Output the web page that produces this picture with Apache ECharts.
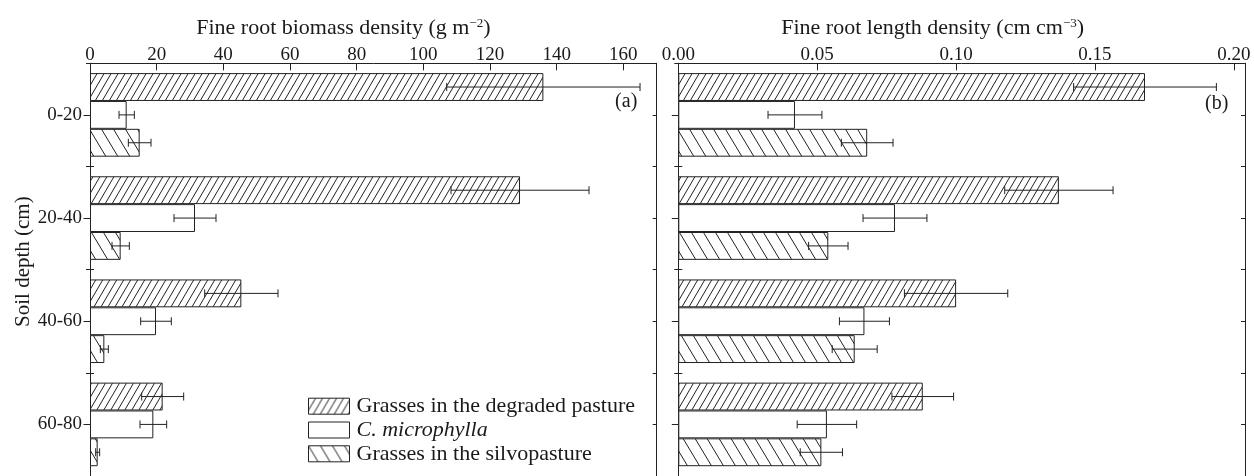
<!DOCTYPE html>
<html><head><meta charset="utf-8">
<script src="https://cdn.jsdelivr.net/npm/echarts@6/dist/echarts.min.js"></script>
<style>html,body{margin:0;padding:0;background:#fff}#c{width:1254px;height:476px}</style>
</head><body><div id="c"></div>
<script>
const depths = ['0-20', '20-40', '40-60', '60-80'];
const seriesNames = ['Grasses in the degraded pasture', 'C. microphylla', 'Grasses in the silvopasture'];

const biomassDegraded = [136, 129, 45.4, 21.8];
const biomassDegradedErr = [29, 20.7, 11, 6.3];
const biomassMicro = [11, 31.5, 19.8, 19];
const biomassMicroErr = [2.3, 6.3, 4.6, 4];
const biomassSilvo = [14.9, 9.2, 4.3, 2.3];
const biomassSilvoErr = [3.4, 2.6, 1.2, 0.6];

const lengthDegraded = [0.168, 0.137, 0.100, 0.088];
const lengthDegradedErr = [0.0257, 0.0195, 0.0186, 0.0111];
const lengthMicro = [0.042, 0.078, 0.067, 0.0535];
const lengthMicroErr = [0.0097, 0.0115, 0.009, 0.0107];
const lengthSilvo = [0.068, 0.054, 0.0635, 0.0515];
const lengthSilvoErr = [0.0093, 0.0071, 0.0081, 0.0076];

const FONT = 'Liberation Serif';
const INK = '#1a1a1a';
const GAP = 0.19;

function hatch(w, h, dir) {
  const c = document.createElement('canvas');
  c.width = w; c.height = h;
  const ctx = c.getContext('2d');
  ctx.fillStyle = '#fff'; ctx.fillRect(0, 0, w, h);
  ctx.strokeStyle = '#222'; ctx.lineWidth = 1;
  ctx.beginPath();
  for (let k = -1; k <= 1; k++) {
    if (dir === '/') { ctx.moveTo(k * w, h); ctx.lineTo(k * w + w, 0); }
    else { ctx.moveTo(k * w, 0); ctx.lineTo(k * w + w, h); }
  }
  ctx.stroke();
  return { image: c, repeat: 'repeat' };
}
const fills = [hatch(7, 12, '/'), '#ffffff', hatch(12, 20, '\\')];

function barSeries(i, xi, yi, data) {
  return {
    type: 'bar', name: seriesNames[i], xAxisIndex: xi, yAxisIndex: yi, data: data,
    barGap: '0%', barCategoryGap: (GAP * 100) + '%',
    itemStyle: { color: fills[i], borderColor: '#222', borderWidth: 1 },
    emphasis: { disabled: true }, silent: true
  };
}
function errSeries(slot, xi, yi, vals, errs) {
  return {
    type: 'custom', xAxisIndex: xi, yAxisIndex: yi, silent: true, z: 5,
    data: vals.map((v, i) => [v, i, errs[i]]),
    encode: { x: 0, y: 1 },
    renderItem: function (params, api) {
      const v = api.value(0), ci = api.value(1), e = api.value(2);
      const band = api.size([0, 1])[1];
      const bw = band * (1 - GAP) / 3;
      const c = api.coord([v, ci]);
      const y = c[1] + (slot - 1) * bw;
      const x1 = api.coord([v - e, ci])[0], x2 = api.coord([v + e, ci])[0];
      const cap = 4;
      const st = { stroke: '#222', lineWidth: 1 };
      return { type: 'group', children: [
        { type: 'line', shape: { x1: x1, y1: y, x2: x2, y2: y }, style: st },
        { type: 'line', shape: { x1: x1, y1: y - cap, x2: x1, y2: y + cap }, style: st },
        { type: 'line', shape: { x1: x2, y1: y - cap, x2: x2, y2: y + cap }, style: st }
      ] };
    }
  };
}

const axisLine = { show: true, lineStyle: { color: '#222', width: 1 } };
function catAxis(grid, pos, opts) {
  return Object.assign({
    type: 'category', gridIndex: grid, position: pos, inverse: true, data: depths,
    axisLine: { show: false }, axisLabel: { show: false }, splitLine: { show: false },
    axisTick: { show: false }
  }, opts);
}
const nameRich = {
  t: { fontFamily: FONT, fontSize: 22, color: INK },
  s: { fontFamily: FONT, fontSize: 13, color: INK, verticalAlign: 'top', padding: [0, 0, 6, 0] }
};
function valAxis(grid, max, interval, fmt, name, padRight) {
  return {
    type: 'value', gridIndex: grid, position: 'top', min: 0, max: max, interval: interval,
    axisLine: axisLine,
    axisTick: { show: true, inside: true, length: 7, lineStyle: { color: '#222' } },
    axisLabel: { fontFamily: FONT, fontSize: 19, color: INK, margin: -1, formatter: fmt },
    splitLine: { show: false },
    name: name, nameLocation: 'middle', nameGap: 24,
    nameTextStyle: { rich: nameRich, padding: [0, padRight, 0, 0] }
  };
}

const option = {
  animation: false,
  backgroundColor: '#fff',
  grid: [
    { left: 90, top: 63.3, width: 566.7, height: 416 },
    { left: 678.3, top: 63.3, width: 566.7, height: 416 },
    { left: 90, top: 63.3, width: 566.7, height: 416 },
    { left: 678.3, top: 63.3, width: 566.7, height: 416 }
  ],
  xAxis: [
    valAxis(0, 170, 20, v => (v % 20 === 0 ? String(v) : ''),
      '{t|Fine root biomass density (g m}{s|−2}{t|)}', 60),
    valAxis(1, 0.204, 0.05, v => (Math.abs(v / 0.05 - Math.round(v / 0.05)) < 1e-6 ? v.toFixed(2) : ''),
      '{t|Fine root length density (cm cm}{s|−3}{t|)}', 58),
    { type: 'value', gridIndex: 2, show: false, min: 0, max: 1 },
    { type: 'value', gridIndex: 3, show: false, min: 0, max: 1 }
  ],
  yAxis: [
    catAxis(0, 'left', {
      axisLine: axisLine,
      axisTick: { show: true, alignWithLabel: true, length: 6.5, lineStyle: { color: '#222' } },
      axisLabel: { show: true, fontFamily: FONT, fontSize: 19, color: INK, margin: 8 },
      name: 'Soil depth (cm)', nameLocation: 'middle', nameRotate: 90, nameGap: 56,
      nameTextStyle: { fontFamily: FONT, fontSize: 21, color: INK, padding: [0, 0, 0, 16] }
    }),
    catAxis(0, 'right', {
      axisLine: axisLine,
      axisTick: { show: true, alignWithLabel: true, inside: true, length: 4, lineStyle: { color: '#222' } }
    }),
    catAxis(2, 'left', {
      offset: -4,
      axisTick: { show: true, alignWithLabel: false, length: 8, lineStyle: { color: '#222' } }
    }),
    catAxis(2, 'right', {
      axisTick: { show: true, alignWithLabel: false, inside: true, length: 4, lineStyle: { color: '#222' } }
    }),
    catAxis(1, 'left', {
      axisLine: axisLine,
      axisTick: { show: true, alignWithLabel: true, length: 6.5, lineStyle: { color: '#222' } }
    }),
    catAxis(1, 'right', {
      axisLine: axisLine,
      axisTick: { show: true, alignWithLabel: true, inside: true, length: 4, lineStyle: { color: '#222' } }
    }),
    catAxis(3, 'left', {
      offset: -4,
      axisTick: { show: true, alignWithLabel: false, length: 8, lineStyle: { color: '#222' } }
    }),
    catAxis(3, 'right', {
      axisTick: { show: true, alignWithLabel: false, inside: true, length: 4, lineStyle: { color: '#222' } }
    })
  ],
  legend: {
    data: seriesNames, orient: 'vertical', left: 308, top: 394.3, height: 300, width: 400, padding: 0,
    itemWidth: 41, itemHeight: 16, itemGap: 0, icon: 'rect', selectedMode: false,
    itemStyle: { borderColor: '#222', borderWidth: 1 },
    textStyle: { fontFamily: FONT, fontSize: 22, lineHeight: 23.8, color: INK, padding: [0, 0, 0, 2],
      rich: { i: { fontFamily: FONT, fontSize: 22, lineHeight: 23.8, fontStyle: 'italic', color: INK } } },
    formatter: n => (n === seriesNames[1] ? '{i|' + n + '}' : n)
  },
  graphic: [
    { type: 'text', x: 637.3, y: 102, style: { text: '(a)', font: '20px "Liberation Serif"', fill: INK,
      align: 'right', verticalAlign: 'middle', textAlign: 'right', textVerticalAlign: 'middle' } },
    { type: 'text', x: 1228.3, y: 104, style: { text: '(b)', font: '20px "Liberation Serif"', fill: INK,
      align: 'right', verticalAlign: 'middle', textAlign: 'right', textVerticalAlign: 'middle' } }
  ],
  series: [
    barSeries(0, 0, 0, biomassDegraded),
    barSeries(1, 0, 0, biomassMicro),
    barSeries(2, 0, 0, biomassSilvo),
    barSeries(0, 1, 4, lengthDegraded),
    barSeries(1, 1, 4, lengthMicro),
    barSeries(2, 1, 4, lengthSilvo),
    errSeries(0, 0, 0, biomassDegraded, biomassDegradedErr),
    errSeries(1, 0, 0, biomassMicro, biomassMicroErr),
    errSeries(2, 0, 0, biomassSilvo, biomassSilvoErr),
    errSeries(0, 1, 4, lengthDegraded, lengthDegradedErr),
    errSeries(1, 1, 4, lengthMicro, lengthMicroErr),
    errSeries(2, 1, 4, lengthSilvo, lengthSilvoErr)
  ]
};
const chart = echarts.init(document.getElementById('c'), null, { renderer: 'canvas' });
chart.setOption(option);
</script>
</body></html>
